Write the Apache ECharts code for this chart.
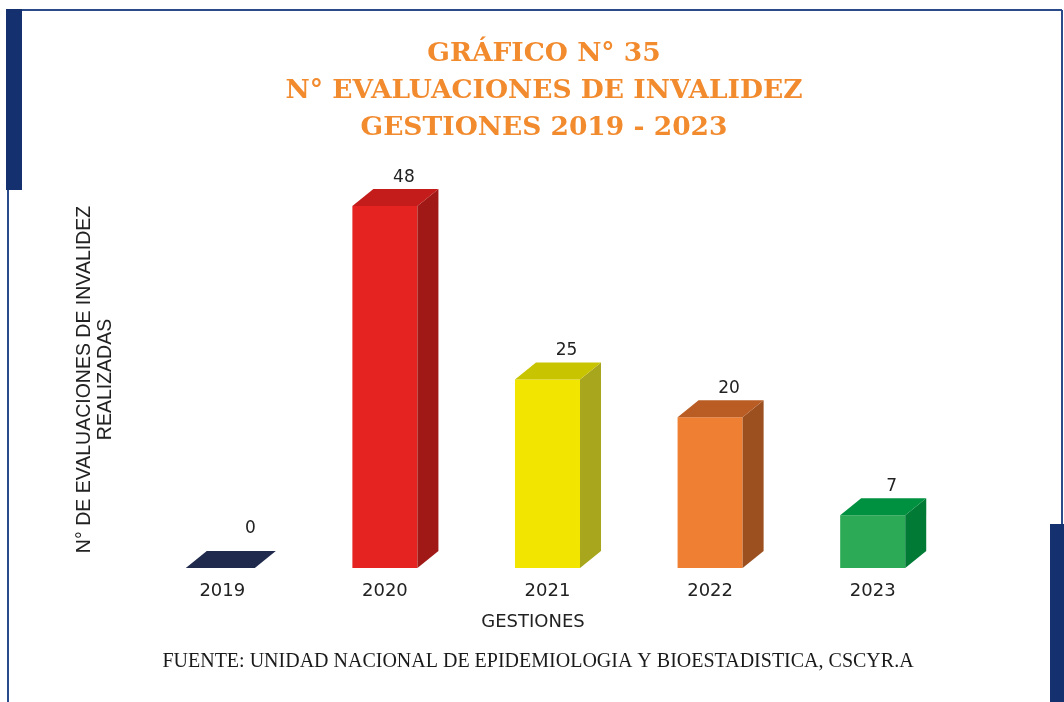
<!DOCTYPE html>
<html>
<head>
<meta charset="utf-8">
<script src="https://cdn.jsdelivr.net/npm/echarts@6/dist/echarts.min.js"></script>
<style>
  html, body { margin: 0; padding: 0; background: #ffffff; }
  #chart { width: 1064px; height: 702px; }
</style>
</head>
<body>
<div id="chart"></div>
<script>
// datos del gráfico
let years = ['2019', '2020', '2021', '2022', '2023'];
let evaluaciones = [0, 48, 25, 20, 7];

// colores: frente, lateral, tapa
let frontColor = ['#1f2a4d', '#e52421', '#f2e600', '#ee7f33', '#2daa55'];
let sideColor = ['#1f2a4d', '#a01917', '#a8a61c', '#9c5020', '#017a36'];
let topColor = ['#1f2a4d', '#c41c1a', '#c9c400', '#b95d24', '#009140'];

let frameBlue = '#2b4a8a';
let barBlue = '#14306e';

let chart = echarts.init(document.getElementById('chart'));

function renderBar3d(params, api) {
    let idx = api.value(0);
    let val = api.value(1);
    let p0 = api.coord([idx, 0]);
    let p1 = api.coord([idx, val]);
    let w = api.size([1, 0])[0] * 0.4;
    let dx = 21, dy = -17;
    let cx = p0[0];
    let xl = cx - w / 2, xr = cx + w / 2;
    let yb = p0[1], yt = p1[1];
    let children = [];
    if (val > 0) {
        children.push({
            type: 'rect',
            shape: {x: xl, y: yt, width: w, height: yb - yt},
            style: {fill: frontColor[idx]}
        });
        children.push({
            type: 'polygon',
            shape: {points: [[xr, yb], [xr + dx, yb + dy], [xr + dx, yt + dy], [xr, yt]]},
            style: {fill: sideColor[idx]}
        });
    }
    // tapa (en 2019 solo se ve la tapa)
    let ext = val > 0 ? 0 : 4;
    children.push({
        type: 'polygon',
        shape: {points: [[xl - ext, yt], [xl + dx - ext, yt + dy], [xr + dx, yt + dy], [xr, yt]]},
        style: {fill: topColor[idx]}
    });
    children.push({
        type: 'text',
        style: {
            text: String(val),
            x: cx + (val > 0 ? 19 : 28),
            y: yt + dy - (val > 0 ? 12 : 22),
            align: 'center',
            verticalAlign: 'middle',
            fill: '#222222',
            font: '17px "DejaVu Sans"'
        }
    });
    return {type: 'group', children: children};
}

let option = {
    backgroundColor: '#ffffff',
    animation: false,
    title: {
        text: 'GRÁFICO N° 35\nN° EVALUACIONES DE INVALIDEZ\nGESTIONES 2019 - 2023',
        left: 539,
        top: 31,
        textAlign: 'center',
        textStyle: {
            color: '#f28a2e',
            fontFamily: 'DejaVu Serif',
            fontWeight: 'bold',
            fontSize: 26.5,
            lineHeight: 37
        }
    },
    grid: {left: 141, right: 110, top: 191, bottom: 134},
    xAxis: {
        type: 'category',
        data: years,
        axisLine: {show: false},
        axisTick: {show: false},
        axisLabel: {
            color: '#222222',
            fontFamily: 'DejaVu Sans',
            fontSize: 18,
            margin: 14
        }
    },
    yAxis: {
        type: 'value',
        min: 0,
        max: 50,
        show: true,
        axisLine: {show: false},
        axisTick: {show: false},
        axisLabel: {show: false},
        splitLine: {show: false},
        name: 'N° DE EVALUACIONES DE INVALIDEZ\nREALIZADAS',
        nameLocation: 'middle',
        nameGap: 25,
        nameRotate: 90,
        nameTextStyle: {
            color: '#222222',
            fontFamily: 'Liberation Sans',
            fontSize: 19.5,
            lineHeight: 21
        }
    },
    series: [{
        type: 'custom',
        renderItem: renderBar3d,
        data: evaluaciones.map(function (v, i) { return [i, v]; })
    }],
    graphic: [
        {type: 'line', shape: {x1: 7, y1: 10, x2: 1062, y2: 10}, style: {stroke: frameBlue, lineWidth: 2}},
        {type: 'line', shape: {x1: 8, y1: 10, x2: 8, y2: 702}, style: {stroke: frameBlue, lineWidth: 2}},
        {type: 'line', shape: {x1: 1062, y1: 10, x2: 1062, y2: 524}, style: {stroke: frameBlue, lineWidth: 2}},
        {type: 'rect', shape: {x: 6, y: 9, width: 16, height: 181}, style: {fill: barBlue}},
        {type: 'rect', shape: {x: 1050, y: 524, width: 14, height: 178}, style: {fill: barBlue}},
        {
            type: 'text',
            x: 533,
            y: 622,
            style: {
                text: 'GESTIONES',
                align: 'center',
                verticalAlign: 'middle',
                fill: '#222222',
                font: '18px "DejaVu Sans"'
            }
        },
        {
            type: 'text',
            x: 538,
            y: 662,
            style: {
                text: 'FUENTE: UNIDAD NACIONAL DE EPIDEMIOLOGIA Y BIOESTADISTICA, CSCYR.A',
                align: 'center',
                verticalAlign: 'middle',
                fill: '#1a1a1a',
                font: '20px "Liberation Serif"'
            }
        }
    ]
};

chart.setOption(option);
</script>
</body>
</html>
